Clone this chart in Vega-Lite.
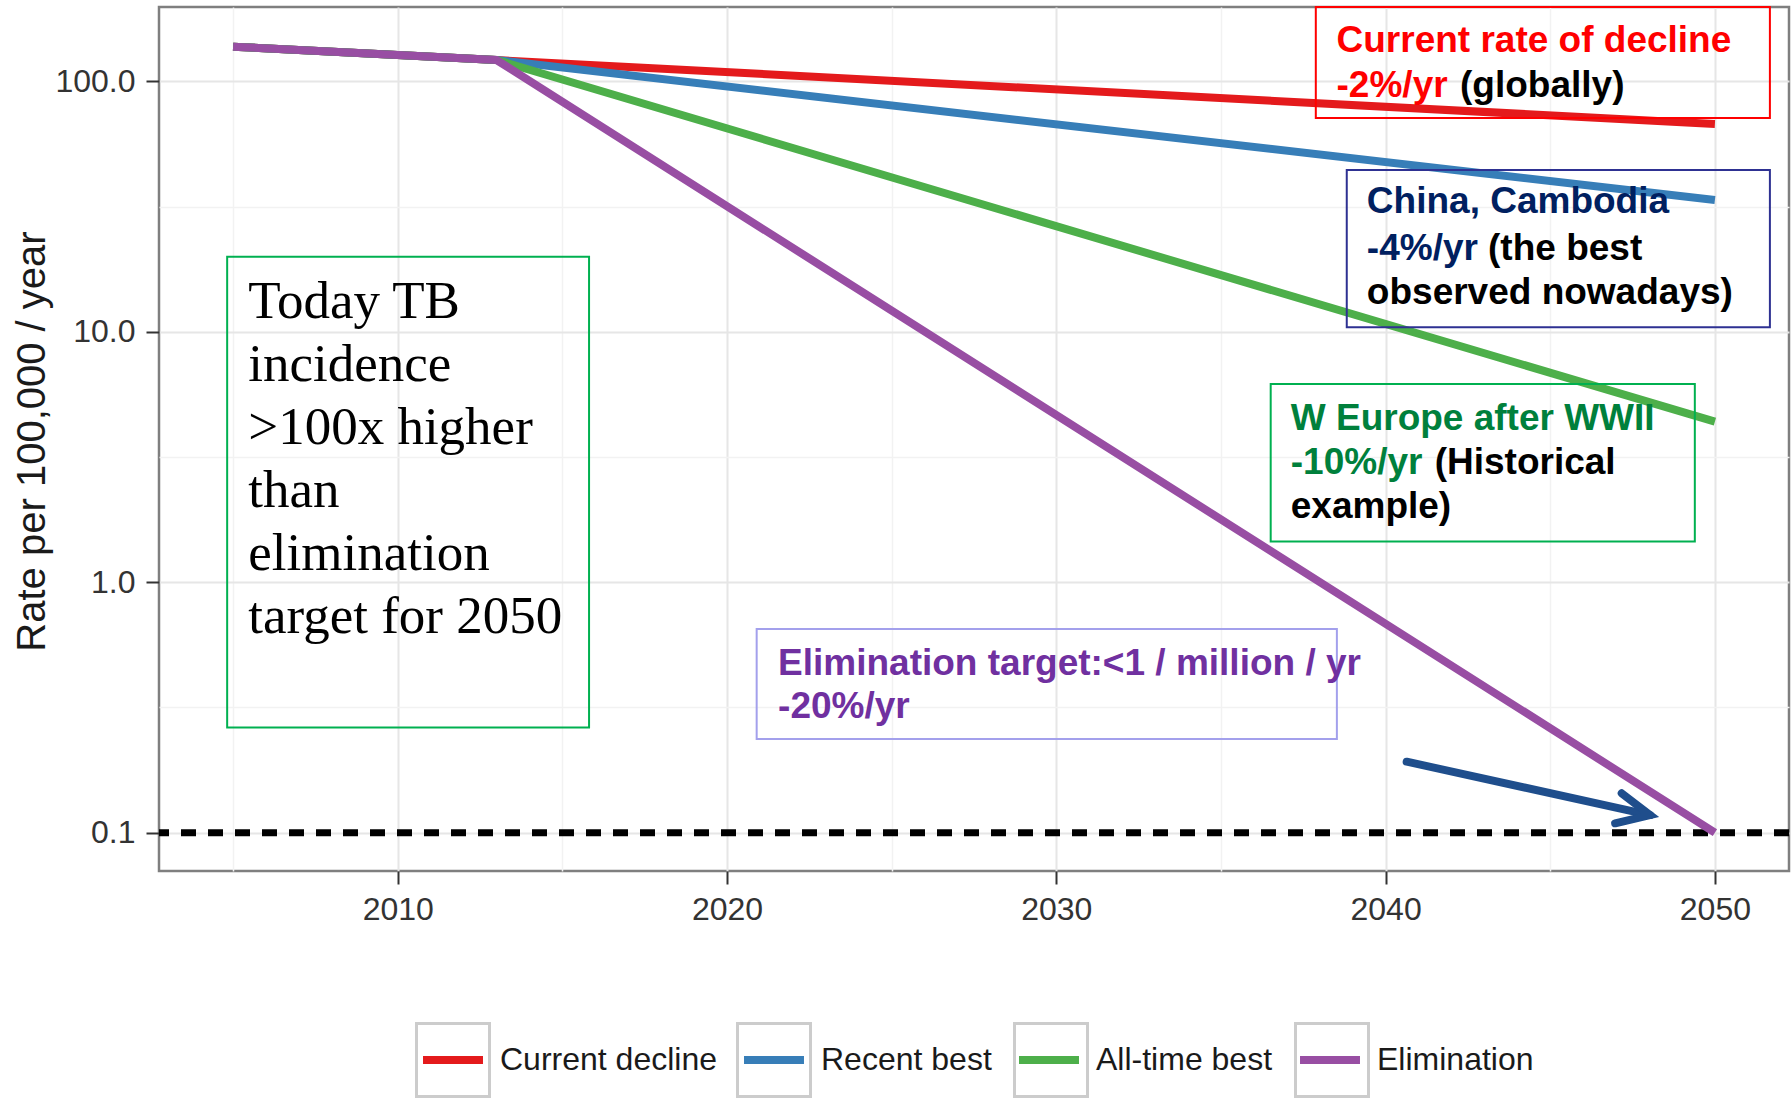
{
  "$schema": "https://vega.github.io/schema/vega-lite/v6.json",
  "width": 1630,
  "height": 864,
  "autosize": {"type": "none"},
  "padding": {"left": 159, "top": 7, "right": 2, "bottom": 227},
  "background": "white",
  "config": {
    "view": {"stroke": "#7F7F7F", "strokeWidth": 2.5},
    "axis": {
      "labelFont": "Liberation Sans",
      "labelFontSize": 32,
      "labelColor": "#333333",
      "tickColor": "#333333",
      "tickWidth": 2,
      "tickSize": 13,
      "domain": false
    }
  },
  "layer": [
    {
      "data": {"values": [{"rate": 0.1}]},
      "mark": {"type": "rule", "color": "#000000", "strokeWidth": 7, "strokeDash": [15, 12]},
      "encoding": {
        "y": {"field": "rate", "type": "quantitative"}
      }
    },
    {
      "data": {"values": [
        {"series": "Current decline", "year": 2005, "rate": 137.5},
        {"series": "Current decline", "year": 2013, "rate": 121.6},
        {"series": "Current decline", "year": 2050, "rate": 67.5},
        {"series": "Recent best", "year": 2005, "rate": 137.5},
        {"series": "Recent best", "year": 2013, "rate": 121.6},
        {"series": "Recent best", "year": 2050, "rate": 33.6},
        {"series": "All-time best", "year": 2005, "rate": 137.5},
        {"series": "All-time best", "year": 2013, "rate": 121.6},
        {"series": "All-time best", "year": 2050, "rate": 4.375},
        {"series": "Elimination", "year": 2005, "rate": 137.5},
        {"series": "Elimination", "year": 2013, "rate": 121.6},
        {"series": "Elimination", "year": 2050, "rate": 0.1}
      ]},
      "mark": {"type": "line", "strokeWidth": 8},
      "encoding": {
        "x": {"field": "year", "type": "quantitative",
          "scale": {"domain": [2002.75, 2052.25], "nice": false, "zero": false},
          "axis": {
            "title": null,
            "values": [2005, 2010, 2015, 2020, 2025, 2030, 2035, 2040, 2045, 2050],
            "format": "d",
            "labelExpr": "datum.value % 10 == 0 ? datum.label : ''",
            "tickOpacity": {"condition": {"test": "datum.value % 10 != 0", "value": 0}, "value": 1},
            "gridColor": {"condition": {"test": "datum.value % 10 != 0", "value": "#F2F2F2"}, "value": "#E6E6E6"},
            "gridWidth": {"condition": {"test": "datum.value % 10 != 0", "value": 1.5}, "value": 2},
            "labelPadding": 10
          }
        },
        "y": {"field": "rate", "type": "quantitative",
          "scale": {"type": "log", "domain": [0.0703, 198], "nice": false},
          "axis": {
            "title": "Rate per 100,000 / year",
            "values": [0.1, 0.3162, 1, 3.162, 10, 31.62, 100],
            "labelExpr": "indexof([0.1,1,10,100], datum.value) >= 0 ? format(datum.value, '.1f') : ''",
            "tickOpacity": {"condition": {"test": "indexof([0.1,1,10,100], datum.value) < 0", "value": 0}, "value": 1},
            "gridColor": {"condition": {"test": "indexof([0.1,1,10,100], datum.value) < 0", "value": "#F2F2F2"}, "value": "#E6E6E6"},
            "gridWidth": {"condition": {"test": "indexof([0.1,1,10,100], datum.value) < 0", "value": 1.5}, "value": 2},
            "labelPadding": 11,
            "titleFont": "Liberation Sans",
            "titleFontSize": 40,
            "titleFontWeight": "normal",
            "titleColor": "#1A1A1A",
            "titleX": -115,
            "titleY": 434,
            "titleAlign": "center",
            "titleBaseline": "alphabetic",
            "titleAngle": 270
          }
        },
        "color": {"field": "series", "type": "nominal",
          "scale": {"domain": ["Current decline", "Recent best", "All-time best", "Elimination"],
                    "range": ["#E41A1C", "#377EB8", "#4DAF4A", "#984EA3"]},
          "legend": {
            "title": null, "orient": "none", "legendX": 256, "legendY": 1015,
            "direction": "horizontal",
            "symbolType": "M-1,0M-0.882,0H0.882",
            "symbolSize": 4624, "symbolStrokeWidth": 8,
            "labelOffset": 9, "columnPadding": 7, "padding": 0, "labelLimit": 600,
            "labelFont": "Liberation Sans",
            "labelFontSize": 32, "labelColor": "#1A1A1A"
          }
        }
      }
    },
    {
      "data": {"values": [
        {"entry": "Current decline"}, {"entry": "Recent best"}, {"entry": "All-time best"}, {"entry": "Elimination"}
      ]},
      "mark": {"type": "point", "filled": true, "opacity": 0, "color": "#CCCCCC"},
      "encoding": {
        "shape": {"field": "entry", "type": "nominal", "sort": null,
          "scale": {"range": [
            "M-1,-1H1V1H-1Z M-0.921,-0.921V0.921H0.921V-0.921Z M7.258,0",
            "M-1,-1H1V1H-1Z M-0.921,-0.921V0.921H0.921V-0.921Z M6.087,0",
            "M-1,-1H1V1H-1Z M-0.921,-0.921V0.921H0.921V-0.921Z M6.205,0",
            "M-1,-1H1V1H-1Z M-0.921,-0.921V0.921H0.921V-0.921Z M5.355,0"]},
          "legend": {
            "title": null, "orient": "none", "legendX": 256, "legendY": 1015,
            "direction": "horizontal",
            "symbolSize": 5776, "symbolStrokeWidth": 0, "symbolOpacity": 1,
            "symbolFillColor": "#CCCCCC",
            "labelExpr": "''",
            "labelOffset": 9, "columnPadding": 7, "padding": 0
          }
        }
      }
    },
    {
      "data": {"values": [
        {"year": 2004.82, "year2": 2015.81, "rate": 19.94, "rate2": 0.2627},
        {"year": 2036.51, "year2": 2049.39, "rate": 6.185, "rate2": 1.454}
      ]},
      "mark": {"type": "rect", "fillOpacity": 0, "stroke": "#00B050", "strokeWidth": 2},
      "encoding": {
        "x": {"field": "year", "type": "quantitative"}, "x2": {"field": "year2"},
        "y": {"field": "rate", "type": "quantitative"}, "y2": {"field": "rate2"}
      }
    },
    {
      "data": {"values": [{"year": 2037.88, "year2": 2051.67, "rate": 198, "rate2": 71.4}]},
      "mark": {"type": "rect", "fillOpacity": 0, "stroke": "#FF0000", "strokeWidth": 2},
      "encoding": {
        "x": {"field": "year", "type": "quantitative"}, "x2": {"field": "year2"},
        "y": {"field": "rate", "type": "quantitative"}, "y2": {"field": "rate2"}
      }
    },
    {
      "data": {"values": [{"year": 2038.82, "year2": 2051.67, "rate": 44.25, "rate2": 10.42}]},
      "mark": {"type": "rect", "fillOpacity": 0, "stroke": "#2E3192", "strokeWidth": 2},
      "encoding": {
        "x": {"field": "year", "type": "quantitative"}, "x2": {"field": "year2"},
        "y": {"field": "rate", "type": "quantitative"}, "y2": {"field": "rate2"}
      }
    },
    {
      "data": {"values": [{"year": 2020.9, "year2": 2038.52, "rate": 0.6506, "rate2": 0.2366}]},
      "mark": {"type": "rect", "fillOpacity": 0, "stroke": "#A3A0EC", "strokeWidth": 2},
      "encoding": {
        "x": {"field": "year", "type": "quantitative"}, "x2": {"field": "year2"},
        "y": {"field": "rate", "type": "quantitative"}, "y2": {"field": "rate2"}
      }
    },
    {
      "data": {"values": [
        {"year": 2038.51, "rate": 131.3, "label": "Current rate of decline"},
        {"year": 2038.51, "rate": 86.8, "label": "-2%/yr"}
      ]},
      "mark": {"type": "text", "align": "left", "baseline": "alphabetic", "font": "Liberation Sans", "fontSize": 37, "fontWeight": "bold", "color": "#FF0000"},
      "encoding": {
        "x": {"field": "year", "type": "quantitative"},
        "y": {"field": "rate", "type": "quantitative"},
        "text": {"field": "label", "type": "nominal"}
      }
    },
    {
      "data": {"values": [
        {"year": 2039.43, "rate": 29.72, "label": "China, Cambodia"},
        {"year": 2039.43, "rate": 19.34, "label": "-4%/yr"}
      ]},
      "mark": {"type": "text", "align": "left", "baseline": "alphabetic", "font": "Liberation Sans", "fontSize": 37, "fontWeight": "bold", "color": "#002060"},
      "encoding": {
        "x": {"field": "year", "type": "quantitative"},
        "y": {"field": "rate", "type": "quantitative"},
        "text": {"field": "label", "type": "nominal"}
      }
    },
    {
      "data": {"values": [
        {"year": 2037.12, "rate": 4.063, "label": "W Europe after WWII"},
        {"year": 2037.12, "rate": 2.704, "label": "-10%/yr"}
      ]},
      "mark": {"type": "text", "align": "left", "baseline": "alphabetic", "font": "Liberation Sans", "fontSize": 37, "fontWeight": "bold", "color": "#00803C"},
      "encoding": {
        "x": {"field": "year", "type": "quantitative"},
        "y": {"field": "rate", "type": "quantitative"},
        "text": {"field": "label", "type": "nominal"}
      }
    },
    {
      "data": {"values": [
        {"year": 2021.55, "rate": 0.4261, "label": "Elimination target:<1 / million / yr"},
        {"year": 2021.55, "rate": 0.287, "label": "-20%/yr"}
      ]},
      "mark": {"type": "text", "align": "left", "baseline": "alphabetic", "font": "Liberation Sans", "fontSize": 37, "fontWeight": "bold", "color": "#7030A0"},
      "encoding": {
        "x": {"field": "year", "type": "quantitative"},
        "y": {"field": "rate", "type": "quantitative"},
        "text": {"field": "label", "type": "nominal"}
      }
    },
    {
      "data": {"values": [
        {"year": 2042.26, "rate": 86.8, "label": "(globally)"},
        {"year": 2043.11, "rate": 19.34, "label": "(the best"},
        {"year": 2039.43, "rate": 12.91, "label": "observed nowadays)"},
        {"year": 2041.49, "rate": 2.704, "label": "(Historical"},
        {"year": 2037.12, "rate": 1.808, "label": "example)"}
      ]},
      "mark": {"type": "text", "align": "left", "baseline": "alphabetic", "font": "Liberation Sans", "fontSize": 37, "fontWeight": "bold", "color": "#000000"},
      "encoding": {
        "x": {"field": "year", "type": "quantitative"},
        "y": {"field": "rate", "type": "quantitative"},
        "text": {"field": "label", "type": "nominal"}
      }
    },
    {
      "data": {"values": [
        {"year": 2005.46, "rate": 11.32, "label": ["Today TB", "incidence", ">100x higher", "than", "elimination", "target for 2050"]}
      ]},
      "mark": {"type": "text", "align": "left", "baseline": "alphabetic", "font": "Liberation Serif", "fontSize": 53, "lineHeight": 63, "color": "#000000"},
      "encoding": {
        "x": {"field": "year", "type": "quantitative"},
        "y": {"field": "rate", "type": "quantitative"},
        "text": {"field": "label", "type": "nominal"}
      }
    },
    {
      "data": {"values": [
        {"part": "shaft", "i": 0, "year": 2040.64, "rate": 0.192},
        {"part": "shaft", "i": 1, "year": 2048.03, "rate": 0.1176},
        {"part": "head", "i": 0, "year": 2047.17, "rate": 0.1436},
        {"part": "head", "i": 1, "year": 2048.03, "rate": 0.1176},
        {"part": "head", "i": 2, "year": 2046.97, "rate": 0.109}
      ]},
      "mark": {"type": "line", "color": "#1F4E8C", "strokeWidth": 8, "strokeCap": "round", "strokeJoin": "miter"},
      "encoding": {
        "x": {"field": "year", "type": "quantitative"},
        "y": {"field": "rate", "type": "quantitative"},
        "detail": {"field": "part", "type": "nominal"},
        "order": {"field": "i", "type": "quantitative"}
      }
    }
  ]
}
